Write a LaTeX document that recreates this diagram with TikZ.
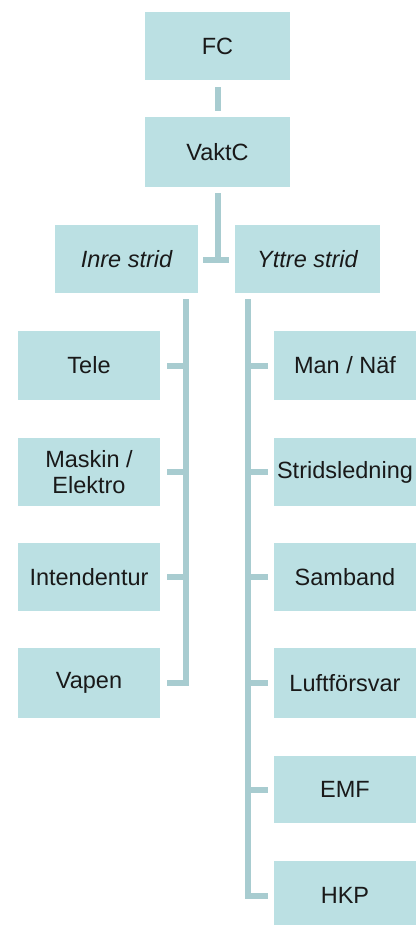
\documentclass[tikz,border=0pt]{standalone}
\usepackage{fontspec}
\setmainfont{Liberation Sans}
\definecolor{boxfill}{RGB}{187,224,227}
\definecolor{linec}{RGB}{168,204,208}
\begin{document}
\begin{tikzpicture}[x=1pt,y=-1pt,
  orgbox/.style={fill=boxfill,draw=none,minimum width=142pt,minimum height=68pt,inner sep=0pt,align=center,font=\fontsize{23.5}{26}\selectfont,text=black!90},
  conn/.style={draw=linec,line width=6pt}]
\useasboundingbox (0,0) rectangle (416,925);
\fill[white] (0,0) rectangle (416,925);
% top
\node[orgbox,minimum width=145pt] (fc) at (217.5,46) {FC};
\node[orgbox,minimum width=145pt,minimum height=70pt] (vaktc) at (217.5,152) {VaktC};
\node[orgbox,minimum width=143pt] (inre) at (126.5,259) {\itshape Inre strid};
\node[orgbox,minimum width=145pt] (yttre) at (307.5,259) {\itshape Yttre strid};
% left column
\node[orgbox,minimum height=69pt] (tele) at (89,365.5) {Tele};
\node[orgbox] (maskin) at (89,472) {Maskin /\\Elektro};
\node[orgbox] (intend) at (89,577) {Intendentur};
\node[orgbox,minimum height=70pt] (vapen) at (89,683) {Vapen};
% right column
\node[orgbox,minimum height=69pt] (man) at (345,365.5) {Man / Näf};
\node[orgbox] (strid) at (345,472) {Stridsledning};
\node[orgbox] (samband) at (345,577) {Samband};
\node[orgbox,minimum height=70pt] (luft) at (345,683) {Luftförsvar};
\node[orgbox,minimum height=67pt] (emf) at (345,789.5) {EMF};
\node[orgbox,minimum height=69pt] (hkp) at (345,895.5) {HKP};
% connectors
\coordinate (tbarl) at (203,260);
\coordinate (tbarr) at (229,260);
\coordinate (tbarm) at (217.5,260);
\draw[conn] ([yshift=-7pt]fc.south) -- ([yshift=6pt]vaktc.north);
\draw[conn] ([yshift=-6pt]vaktc.south) -- ([yshift=3pt]tbarm);
\draw[conn] (tbarl) -- (tbarr);
% left trunk
\coordinate (ltop) at (186,299);
\coordinate (lbot) at (186,683);
\draw[conn] (ltop) -- (lbot) -- ([xshift=7pt]vapen.east);
\draw[conn] ([xshift=7pt]tele.east) -- (tele.east -| ltop);
\draw[conn] ([xshift=7pt]maskin.east) -- (maskin.east -| ltop);
\draw[conn] ([xshift=7pt]intend.east) -- (intend.east -| ltop);
% right trunk
\coordinate (rtop) at (248,299);
\coordinate (rbot) at (248,895.5);
\draw[conn] (rtop) -- (rbot) -- ([xshift=-6pt]hkp.west);
\draw[conn] ([xshift=-6pt]man.west) -- (man.west -| rtop);
\draw[conn] ([xshift=-6pt]strid.west) -- (strid.west -| rtop);
\draw[conn] ([xshift=-6pt]samband.west) -- (samband.west -| rtop);
\draw[conn] ([xshift=-6pt]luft.west) -- (luft.west -| rtop);
\draw[conn] ([xshift=-6pt]emf.west) -- (emf.west -| rtop);
\end{tikzpicture}
\end{document}
